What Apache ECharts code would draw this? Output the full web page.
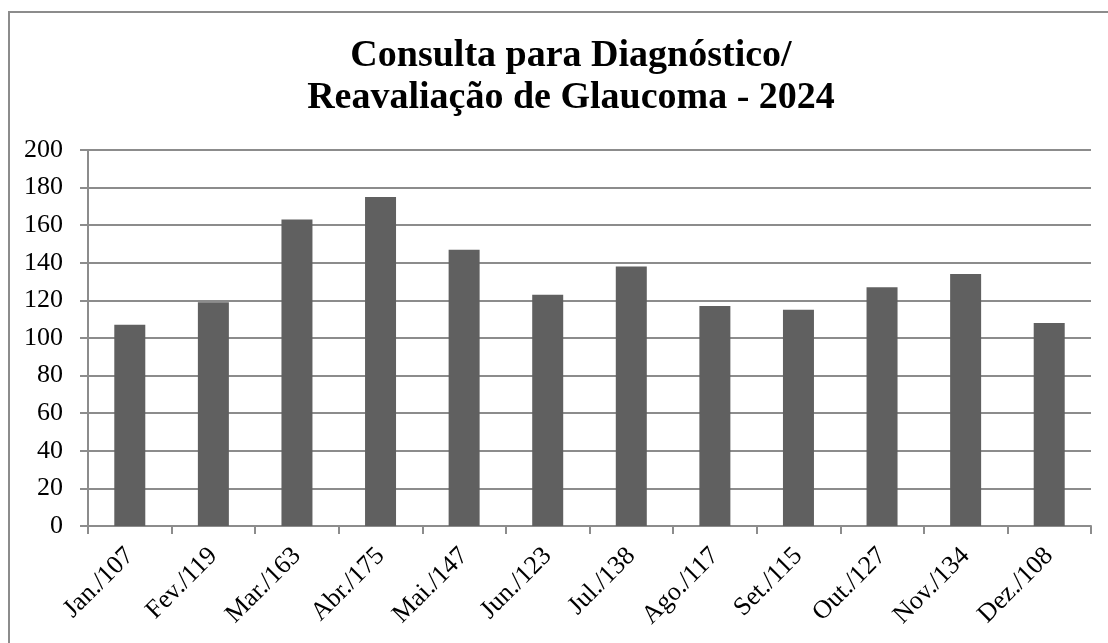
<!DOCTYPE html>
<html>
<head>
<meta charset="utf-8">
<script src="https://cdn.jsdelivr.net/npm/echarts@6/dist/echarts.min.js"></script>
<style>
  html, body { margin:0; padding:0; background:#fff; }
  #box { position:absolute; left:8px; top:11px; width:1108px; height:640px; border:2px solid #8c8c8c; box-sizing:border-box; }
  #chart { position:absolute; left:0; top:0; width:1108px; height:643px; }
</style>
</head>
<body>
<div id="box"></div>
<div id="chart"></div>
<script>
var categories = ['Jan./107','Fev./119','Mar./163','Abr./175','Mai./147','Jun./123','Jul./138','Ago./117','Set./115','Out./127','Nov./134','Dez./108'];
var values = [107, 119, 163, 175, 147, 123, 138, 117, 115, 127, 134, 108];
var titleLines = ['Consulta para Diagnóstico/', 'Reavaliação de Glaucoma - 2024'];

var chart = echarts.init(document.getElementById('chart'));
var option = {
    backgroundColor: 'transparent',
    title: {
        text: titleLines.join('\n'),
        left: 566,
        top: 30,
        textAlign: 'center',
        textStyle: {
            fontFamily: 'Liberation Serif',
            fontWeight: 'bold',
            fontSize: 38,
            lineHeight: 42,
            color: '#000'
        }
    },
    grid: {
        left: 88,
        top: 150,
        right: 17,
        bottom: 117,
        containLabel: false
    },
    xAxis: {
        type: 'category',
        data: categories,
        boundaryGap: true,
        axisLine: { lineStyle: { color: '#8c8c8c', width: 2 } },
        axisTick: { show: true, length: 8, lineStyle: { color: '#8c8c8c', width: 2 } },
        axisLabel: {
            rotate: 45,
            interval: 0,
            margin: 26,
            fontFamily: 'Liberation Serif',
            fontSize: 26,
            color: '#000'
        }
    },
    yAxis: {
        type: 'value',
        min: 0,
        max: 200,
        interval: 20,
        axisLine: { show: true, lineStyle: { color: '#8c8c8c', width: 2 } },
        axisTick: { show: true, length: 8, lineStyle: { color: '#8c8c8c', width: 2 } },
        splitLine: { show: true, lineStyle: { color: '#8c8c8c', width: 2 } },
        axisLabel: {
            margin: 25,
            fontFamily: 'Liberation Serif',
            fontSize: 26,
            color: '#000'
        }
    },
    series: [
        {
            type: 'bar',
            data: values,
            barWidth: 31,
            itemStyle: { color: '#606060' },
            animation: false
        }
    ]
};
chart.setOption(option);
</script>
</body>
</html>
